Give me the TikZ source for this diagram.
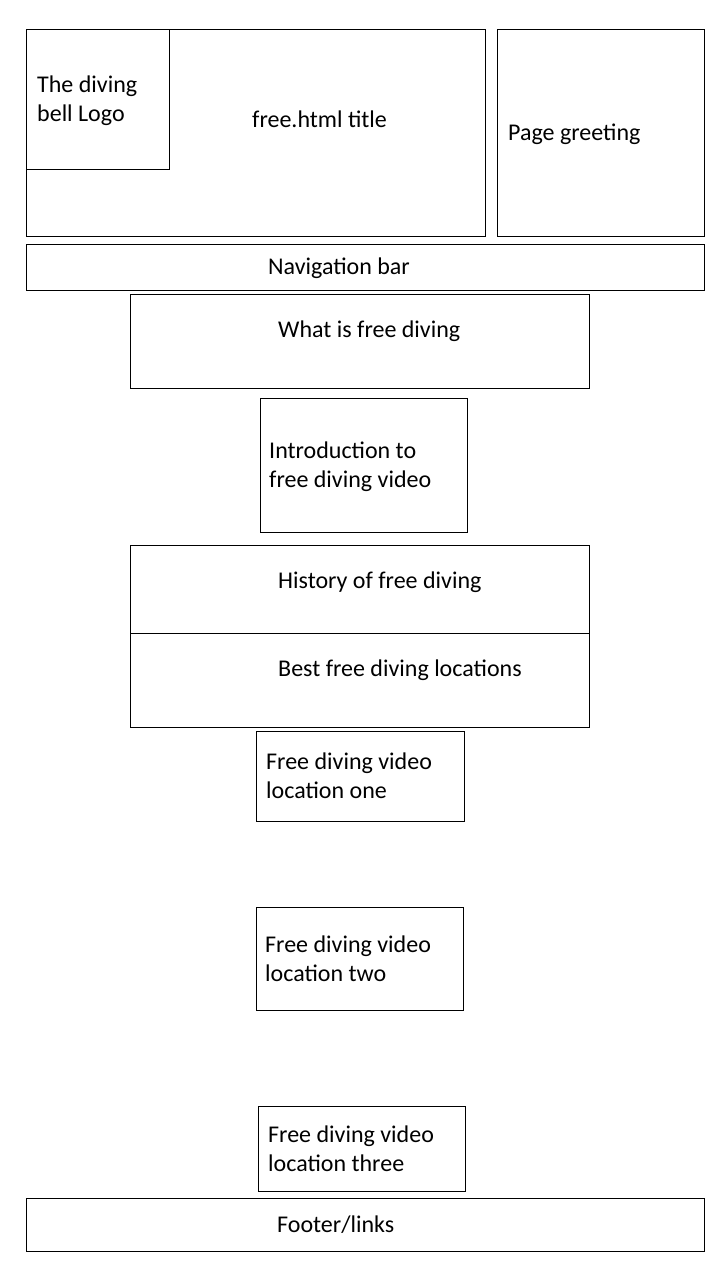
\documentclass[tikz,border=0pt]{standalone}
\usepackage{fontspec}
\setmainfont{Carlito}
\usetikzlibrary{positioning}
\tikzset{
  box/.style={draw,line width=1pt,anchor=north west,inner sep=0pt},
  txt/.style={anchor=base west,inner sep=0pt,align=left,font=\fontsize{24}{29}\selectfont}
}
\begin{document}
\begin{tikzpicture}[x=1pt,y=-1pt]
    \useasboundingbox (0,0) rectangle (720,1280);
    % header row
    \node[box,minimum width=459pt,minimum height=207pt] (title) at (26,29) {};
    \node[box,minimum width=143pt,minimum height=140pt] (logo) at (26,29) {};
    \node[box,minimum width=207pt,minimum height=207pt] (greet) at (497,29) {};
    \node[txt] (logotxt) at (37,121) {The diving\\bell Logo};
    \node[txt] (titletxt) at (252,127) {free.html title};
    \node[txt] (greettxt) at (508,140) {Page greeting};
    % navigation
    \node[box,minimum width=678pt,minimum height=46pt] (nav) at (26,244) {};
    \node[txt] (navtxt) at (268,274) {Navigation bar};
    % content blocks
    \node[box,minimum width=459pt,minimum height=94pt] (what) at (130,294) {};
    \node[txt] (whattxt) at (278,337) {What is free diving};
    \node[box,minimum width=207pt,minimum height=134pt] (intro) at (260,398) {};
    \node[txt] (introtxt) at (269,487) {Introduction to\\free diving video};
    \node[box,minimum width=459pt,minimum height=88pt] (hist) at (130,545) {};
    \node[txt] (histtxt) at (278,588) {History of free diving};
    \node[box,minimum width=459pt,minimum height=94pt] (best) at (130,633) {};
    \node[txt] (besttxt) at (278,676) {Best free diving locations};
    % location videos
    \node[box,minimum width=208pt,minimum height=90pt] (locone) at (256,731) {};
    \node[txt] (loconetxt) at (266,798) {Free diving video\\location one};
    \node[box,minimum width=207pt,minimum height=103pt] (loctwo) at (256,907) {};
    \node[txt] (loctwotxt) at (265,981) {Free diving video\\location two};
    \node[box,minimum width=207pt,minimum height=85pt] (locthree) at (258,1106) {};
    \node[txt] (locthreetxt) at (268,1171) {Free diving video\\location three};
    % footer
    \node[box,minimum width=678pt,minimum height=53pt] (foot) at (26,1198) {};
    \node[txt] (foottxt) at (277,1232) {Footer/links};
\end{tikzpicture}
\end{document}
